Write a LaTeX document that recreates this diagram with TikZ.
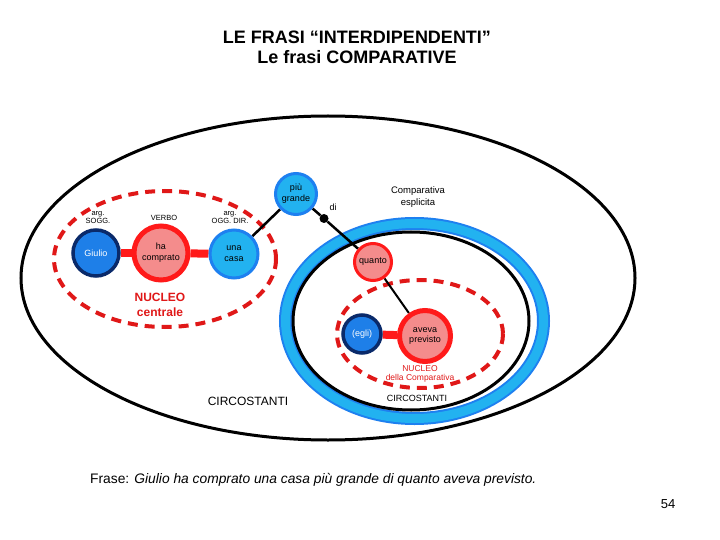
\documentclass[tikz,border=0pt]{standalone}
\usepackage{fontspec}
\setmainfont{Liberation Sans}
\pgfdeclarelayer{ell}
\pgfdeclarelayer{bg}
\pgfsetlayers{ell,bg,main}
\definecolor{navy}{HTML}{0A2A6A}
\definecolor{bluefill}{HTML}{1E7FE8}
\definecolor{cyanfill}{HTML}{22B2F0}
\definecolor{cyanedge}{HTML}{1E80F0}
\definecolor{pinkfill}{HTML}{F48C8C}
\definecolor{redline}{HTML}{FF1A1A}
\definecolor{dashred}{HTML}{E01818}
\newcommand{\fs}[1]{\fontsize{#1}{\dimexpr#1pt*6/5\relax}\selectfont}
\begin{document}
\begin{tikzpicture}[x=1pt,y=-1pt,
  bluenode/.style={circle,draw=navy,fill=bluefill,line width=3.5,text=white,inner sep=0,font=\fs{9},align=center},
  cyannode/.style={circle,draw=cyanedge,fill=cyanfill,line width=3,text=black,inner sep=0,font=\fs{9},align=center},
  pinknode/.style={circle,draw=redline,fill=pinkfill,line width=5,text=black,inner sep=0,font=\fs{9},align=center},
  redbar/.style={line width=8,draw=redline},
  blackline/.style={line width=2.5,draw=black},
  nucleo/.style={draw=dashred,line width=4,dash pattern=on 10 off 7},
  lbl/.style={inner sep=0,align=center,font=\fs{7.5}},
]
\begin{pgfonlayer}{ell}
  \fill[white] (0,0) rectangle (720,540);
\end{pgfonlayer}
\useasboundingbox (0,0) rectangle (720,540);

% title
\node[inner sep=0,font=\bfseries\fs{18}] (t1) at (357,37) {LE FRASI “INTERDIPENDENTI”};
\node[inner sep=0,font=\bfseries\fs{18}] (t2) at (357,57) {Le frasi COMPARATIVE};

\begin{pgfonlayer}{ell}
  \draw[line width=3] (328,278) ellipse [x radius=307, y radius=162];
  \draw[cyanedge,line width=13] (414.5,321) ellipse [x radius=129, y radius=97.5];
  \draw[cyanfill,line width=9] (414.5,321) ellipse [x radius=129, y radius=97.5];
  \draw[line width=3] (411,321) ellipse [x radius=118, y radius=89];
  \draw[nucleo] (165,259) ellipse [x radius=111, y radius=68];
  \draw[nucleo] (420,334) ellipse [x radius=83, y radius=54];
\end{pgfonlayer}

% nodes
\node[bluenode,minimum size=46] (giulio) at (96,253) {Giulio};
\node[pinknode,minimum size=54] (comprato) at (161,253) {ha\\comprato};
\node[cyannode,minimum size=48] (casa) at (234,254) {una\\casa};
\node[cyannode,minimum size=41] (grande) at (296,194) {più\\grande};
\node[circle,fill=black,minimum size=9,inner sep=0] (dot) at (324,218.5) {};
\node[pinknode,line width=3,minimum size=37] (quanto) at (373,262) {quanto};
\node[bluenode,minimum size=38] (egli) at (362,334) {(egli)};
\node[pinknode,minimum size=51] (aveva) at (425,336) {aveva\\previsto};

\begin{pgfonlayer}{bg}
  \draw[redbar] (giulio) -- (comprato);
  \draw[redbar] (comprato) -- (casa);
  \draw[redbar] (egli) -- (aveva);
  \draw[blackline] (casa) -- (grande);
  \draw[blackline] (grande) -- (dot) -- (quanto);
  \draw[line width=2,draw=black] (quanto) -- (aveva);
\end{pgfonlayer}

% labels
\node[lbl] (lsogg) at (98,217.5) {arg.\\[-1pt]SOGG.};
\node[lbl] (lverbo) at (164,218) {VERBO};
\node[lbl] (logg) at (230,217.5) {arg.\\[-1pt]OGG. DIR.};
\node[inner sep=0,font=\fs{9}] (ldi) at (333,207) {di};
\node[inner sep=0,align=center,font=\fs{9.5}] (lcomp) at (418,197) {Comparativa\\esplicita};
\node[inner sep=0,align=center,text=dashred,font=\bfseries\fs{12}] (lnucleo) at (160,305) {NUCLEO\\centrale};
\node[inner sep=0,align=center,text=dashred,font=\fs{8.5}] (lnucleo2) at (420,374) {NUCLEO\\[-1pt]della Comparativa};
\node[inner sep=0,font=\fs{9}] (lcirc2) at (417,398) {CIRCOSTANTI};
\node[inner sep=0,font=\fs{12}] (lcirc1) at (248,401) {CIRCOSTANTI};

\node[inner sep=0,anchor=west,font=\fs{13.8}] (frase) at (90,480) {Frase: \textit{Giulio ha comprato una casa più grande di quanto aveva previsto.}};
\node[inner sep=0,font=\fs{13}] (num) at (668,504) {54};
\end{tikzpicture}
\end{document}
